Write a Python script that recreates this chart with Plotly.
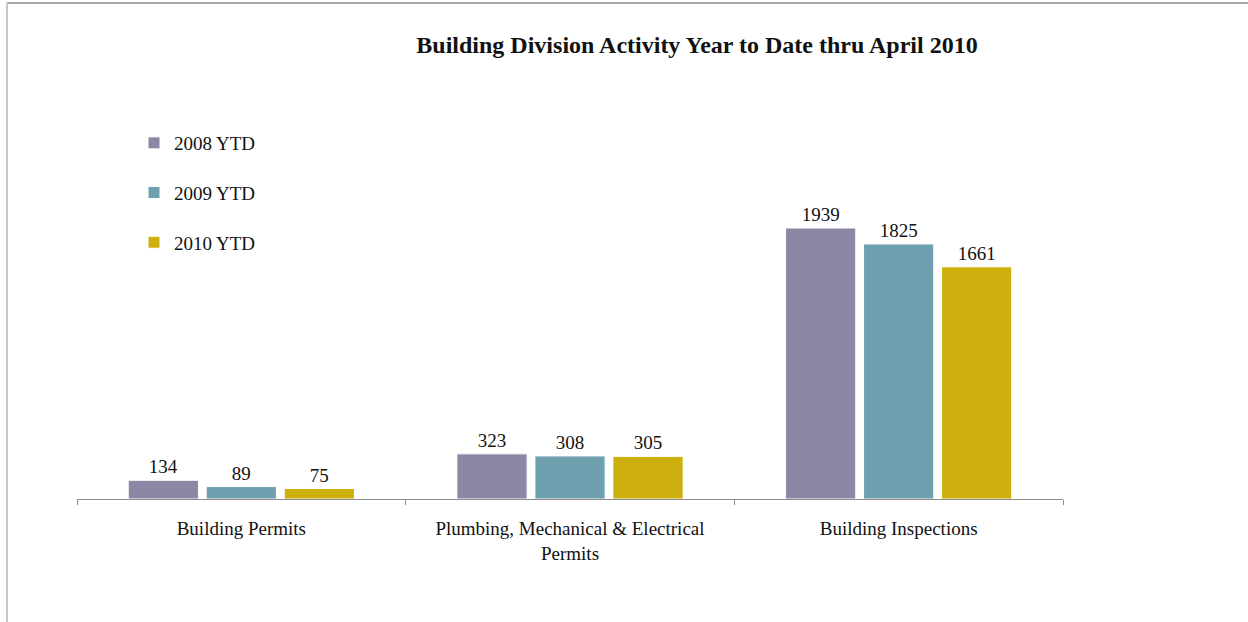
import plotly.graph_objects as go

categories = ["Building Permits", "Plumbing, Mechanical & Electrical<br>Permits", "Building Inspections"]
series_names = ["2008 YTD", "2009 YTD", "2010 YTD"]
values_2008 = [134, 323, 1939]
values_2009 = [89, 308, 1825]
values_2010 = [75, 305, 1661]
colors = ["#8B87A5", "#6EA0B0", "#CDB00E"]

W, H = 1248, 622
L, R, T, B = 77, 185, 99, 123
pw, ph = W - L - R, H - T - B

def px_x(p):
    return (p - L) / pw

def px_y(p):
    return (H - B - p) / ph

font_family = "Liberation Serif, Times New Roman, serif"

fig = go.Figure()
for name, vals, col in zip(series_names, [values_2008, values_2009, values_2010], colors):
    fig.add_trace(go.Bar(
        x=categories, y=vals, name=name, legendgroup=name,
        marker=dict(color=col, line=dict(color="white", width=1)),
        text=[str(v) for v in vals], textposition="outside",
        textfont=dict(family=font_family, size=19, color="#111111"),
        cliponaxis=False,
    ))

fig.update_layout(
    width=W, height=H,
    margin=dict(l=L, r=R, t=T, b=B),
    paper_bgcolor="white", plot_bgcolor="white",
    barmode="group", bargap=0.288, bargroupgap=0.1,
    font=dict(family=font_family, size=19, color="#111111"),
    title=dict(
        text="<b>Building Division Activity Year to Date thru April 2010</b>",
        font=dict(family=font_family, size=24, color="#111111"),
        xref="container", yref="container",
        x=697 / W, xanchor="center", y=1 - 45 / H, yanchor="middle",
    ),
    legend=dict(
        x=px_x(134), y=px_y(124), xanchor="left", yanchor="top",
        font=dict(family=font_family, size=19, color="#111111"),
        tracegroupgap=22, bgcolor="rgba(0,0,0,0)",
    ),
    xaxis=dict(
        showline=True, linecolor="#8c8c8c", linewidth=1,
        ticks="outside", tickson="boundaries", ticklen=5, tickcolor="#8c8c8c",
        tickfont=dict(family=font_family, size=19, color="#111111"),
        ticklabelstandoff=12,
        showgrid=False, zeroline=False,
    ),
    yaxis=dict(visible=False, range=[0, ph / (271 / 1939)], showgrid=False, zeroline=False),
    showlegend=True,
)

fig.add_shape(type="line", xref="paper", yref="paper",
              x0=px_x(7), x1=px_x(W), y0=px_y(3), y1=px_y(3),
              line=dict(color="#8c8c8c", width=1.5))
fig.add_shape(type="line", xref="paper", yref="paper",
              x0=px_x(7), x1=px_x(7), y0=px_y(3), y1=px_y(H),
              line=dict(color="#c8c8c8", width=2))

fig.write_html("out.html", config={"displayModeBar": False},
               post_script="document.body.style.margin='0';document.body.style.overflow='hidden';")
